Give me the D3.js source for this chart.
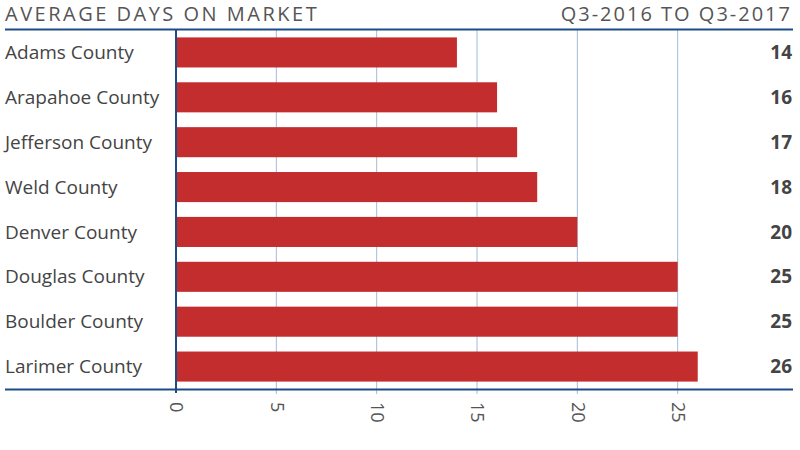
<!DOCTYPE html>
<html><head><meta charset="utf-8">
<script src="https://cdn.jsdelivr.net/npm/d3@7"></script>
<style>body{margin:0;background:#fff}svg{display:block}</style>
</head><body>
<svg id="c" width="800" height="450"></svg>
<script>
const categories = ["Adams County","Arapahoe County","Jefferson County","Weld County","Denver County","Douglas County","Boulder County","Larimer County"];
const values = [14,16,17,18,20,25,25,26];
const valueLabels = ["14","16","17","18","20","25","25","26"];
const tickValues = [0,5,10,15,20,25];
const title = "AVERAGE DAYS ON MARKET";
const subtitle = "Q3-2016 TO Q3-2017";

const svg = d3.select("#c");
const font = "'Open Sans', sans-serif";
const x = d3.scaleLinear().domain([0,30]).range([176, 778]);
const y = d3.scaleBand().domain(categories).range([30, 389]).paddingInner(0.33).paddingOuter(0.165);

// gridlines
svg.append("g").selectAll("line").data(tickValues.filter(d=>d>0)).join("line")
  .attr("x1",d=>x(d)).attr("x2",d=>x(d)).attr("y1",30).attr("y2",394)
  .attr("stroke","#a3bcd9").attr("stroke-width",1);

// bars
svg.append("g").selectAll("rect").data(values).join("rect")
  .attr("x",x(0)).attr("y",(d,i)=>y(categories[i]))
  .attr("width",d=>x(d)-x(0)).attr("height",y.bandwidth())
  .attr("fill","#c32d2e");

// top & bottom lines
svg.append("line").attr("x1",5).attr("x2",793).attr("y1",29.5).attr("y2",29.5).attr("stroke","#1d4b85").attr("stroke-width",2);
svg.append("line").attr("x1",5).attr("x2",793).attr("y1",389.5).attr("y2",389.5).attr("stroke","#1d4b85").attr("stroke-width",2);
// vertical axis line
svg.append("line").attr("x1",x(0)).attr("x2",x(0)).attr("y1",30).attr("y2",393).attr("stroke","#1d4b85").attr("stroke-width",2);

// axis tick labels rotated
const xAxis = d3.axisBottom(x).tickValues(tickValues).tickSize(0).tickFormat(d3.format("d"));
const ax = svg.append("g").attr("transform","translate(0,389)").call(xAxis);
ax.select(".domain").remove();
ax.selectAll("text").attr("font-family",font).attr("font-size",18).attr("fill","#555")
  .attr("transform","rotate(90)").attr("x",13).attr("y",0).attr("dy","0.35em").attr("text-anchor","start")
  .attr("dx",0);

// category labels
svg.append("g").selectAll("text").data(categories).join("text")
  .attr("x",5).attr("y",d=>y(d)+y.bandwidth()/2).attr("dy","0.35em")
  .attr("font-family",font).attr("font-size",19).attr("fill","#444").text(d=>d);

// value labels
svg.append("g").selectAll("text").data(valueLabels).join("text")
  .attr("x",792).attr("y",(d,i)=>y(categories[i])+y.bandwidth()/2).attr("dy","0.35em")
  .attr("text-anchor","end").attr("font-family",font).attr("font-weight","bold")
  .attr("font-size",19).attr("fill","#444").text(d=>d);

// title
svg.append("text").attr("x",5).attr("y",21).attr("font-family",font).attr("font-size",20)
  .attr("letter-spacing","2.5px").attr("fill","#555").text(title);
svg.append("text").attr("x",792).attr("y",21).attr("text-anchor","end").attr("font-family",font).attr("font-size",20)
  .attr("letter-spacing","2px").attr("fill","#555").text(subtitle);
</script>
</body></html>
